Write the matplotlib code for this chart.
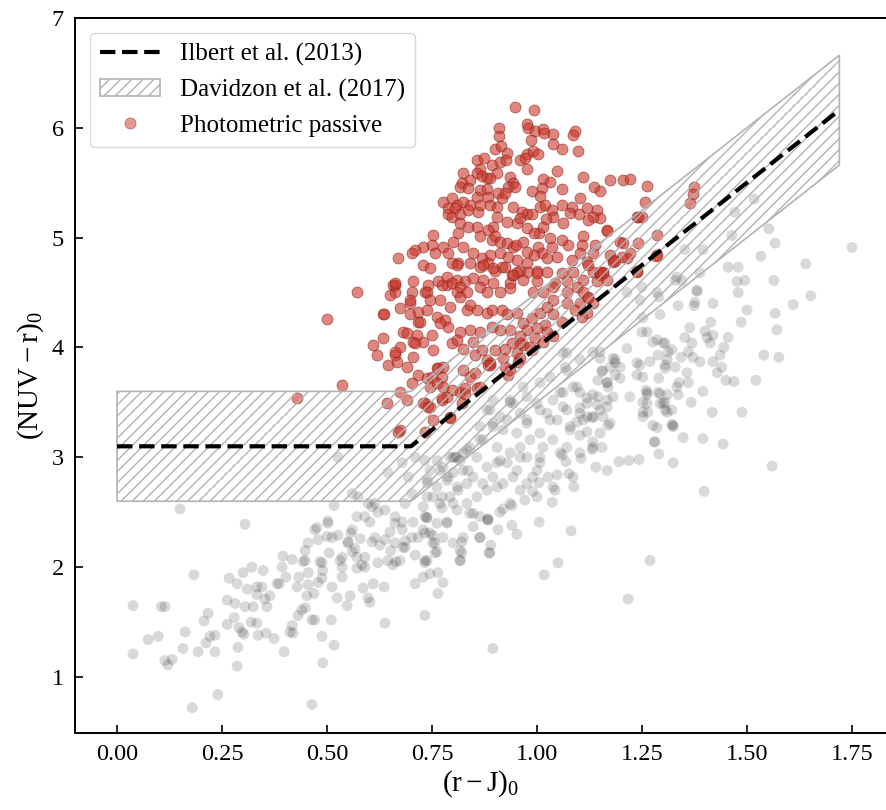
import numpy as np
import matplotlib
matplotlib.use("Agg")
import matplotlib.pyplot as plt
from matplotlib.patches import Polygon
from matplotlib.lines import Line2D

plt.rcParams['font.family'] = ['Liberation Serif', 'DejaVu Serif']
plt.rcParams['mathtext.fontset'] = 'custom'
plt.rcParams['mathtext.rm'] = 'Liberation Serif'
plt.rcParams['mathtext.it'] = 'Liberation Serif:italic'
plt.rcParams['hatch.linewidth'] = 1.0

# selection boundaries
ilbert_x = [0.0, 0.7, 1.72]
ilbert_y = [3.1, 3.1, 6.16]
davidzon_x = [0.0, 0.7, 1.72, 1.72, 0.7, 0.0]
davidzon_y = [2.6, 2.6, 5.66, 6.66, 3.6, 3.6]

# full photometric sample (r-J, NUV-r)
all_pts = [
    (0.15, 2.53), (0.305, 2.39), (0.183, 1.93), (0.038, 1.65), (0.038, 1.21), (0.105, 1.64),
    (0.114, 1.64), (0.074, 1.34), (0.098, 1.37), (0.114, 1.15), (0.121, 1.11), (0.131, 1.16),
    (0.157, 1.26), (0.162, 1.41), (0.179, 0.72), (0.24, 0.84), (0.193, 1.23), (0.207, 1.51),
    (0.217, 1.58), (0.212, 1.31), (0.221, 1.37), (0.233, 1.38), (0.233, 1.23), (0.262, 1.48),
    (0.262, 1.70), (0.281, 1.67), (0.267, 1.90), (0.279, 1.54), (0.286, 1.85), (0.288, 1.27),
    (0.286, 1.10), (0.29, 1.45), (0.298, 1.41), (0.302, 1.39), (0.30, 1.95), (0.321, 2.0),
    (0.305, 1.64), (0.324, 1.64), (0.31, 1.80), (0.319, 1.50), (0.333, 1.49), (0.336, 1.38),
    (0.355, 1.40), (0.333, 1.82), (0.345, 1.82), (0.333, 1.75), (0.348, 1.97), (0.352, 1.71),
    (0.357, 1.64), (0.364, 1.74), (0.374, 1.35), (0.381, 1.85), (0.386, 1.85), (0.393, 2.0),
    (0.395, 2.10), (0.398, 1.23), (0.402, 1.91), (0.417, 2.07), (0.412, 1.41), (0.419, 1.40),
    (0.417, 1.47), (0.429, 1.82), (0.433, 1.91), (0.431, 1.56), (0.44, 1.61), (0.448, 1.63),
    (0.443, 2.05), (0.448, 2.15), (0.452, 1.74), (0.455, 1.84), (0.464, 1.52), (0.471, 1.52),
    (0.464, 0.75), (0.455, 1.95), (0.469, 1.76), (0.476, 2.36), (0.479, 2.25), (0.479, 1.86),
    (0.488, 1.90), (0.483, 2.05), (0.49, 1.97), (0.488, 1.37), (0.49, 1.13), (0.50, 2.28),
    (0.502, 2.42), (0.505, 2.13), (0.51, 1.52), (0.512, 1.82), (0.517, 2.56), (0.517, 1.29),
    (0.524, 1.72), (0.526, 2.29), (0.531, 2.06), (0.536, 2.0), (0.536, 1.91), (0.548, 1.65),
    (0.55, 2.23), (0.555, 1.74), (0.557, 2.31), (0.56, 2.14), (0.567, 2.17), (0.571, 2.09),
    (0.571, 2.46), (0.571, 1.99), (0.579, 2.26), (0.583, 2.02), (0.59, 2.0), (0.586, 1.81),
    (0.598, 1.72), (0.602, 1.68), (0.602, 2.41), (0.607, 2.55), (0.607, 2.23), (0.61, 1.85),
    (0.621, 2.50), (0.626, 2.20), (0.621, 2.04), (0.638, 2.25), (0.636, 1.82), (0.638, 1.49),
    (0.65, 2.32), (0.652, 2.15), (0.657, 2.02), (0.664, 2.05), (0.662, 2.40), (0.674, 2.06),
    (0.679, 2.41), (0.681, 2.18), (0.686, 2.24), (0.705, 2.41), (0.71, 2.11), (0.71, 1.85),
    (0.717, 2.27), (0.729, 2.34), (0.733, 1.56), (0.733, 2.04), (0.738, 2.45), (0.729, 1.91),
    (0.745, 1.94), (0.752, 2.29), (0.762, 2.14), (0.764, 1.95), (0.764, 1.76), (0.776, 1.86),
    (0.774, 2.54), (0.786, 2.40), (0.80, 2.58), (0.817, 2.06), (0.821, 2.23), (0.821, 2.13),
    (0.848, 2.49), (0.864, 2.27), (0.883, 2.43), (0.888, 2.13), (0.895, 1.26),
    (1.017, 1.93), (1.05, 2.04), (1.081, 2.33), (1.005, 2.41), (0.952, 2.30), (0.94, 2.38),
    (0.907, 2.34), (0.886, 2.13), (0.89, 2.20), (0.883, 2.44), (1.269, 2.06), (1.217, 1.71),
    (1.398, 2.69), (1.036, 2.59), (1.088, 2.73), (1.086, 2.82), (1.076, 2.85), (1.043, 2.70),
    (1.048, 2.84), (1.026, 2.82), (1.005, 2.77), (1.0, 2.88), (0.99, 2.69), (0.971, 2.61),
    (0.94, 2.56), (0.919, 2.53), (1.14, 2.91), (1.167, 2.88), (1.195, 2.96), (1.219, 2.97),
    (1.243, 2.98), (1.105, 2.99), (1.06, 3.02), (1.069, 2.96), (1.131, 3.07), (1.155, 3.09),
    (1.133, 3.14), (1.102, 3.20), (1.079, 3.25), (1.095, 3.32), (1.11, 3.34), (1.133, 3.36),
    (1.157, 3.37), (1.169, 3.29), (1.143, 3.48), (1.15, 3.43), (1.102, 3.45), (1.119, 3.54),
    (1.145, 3.55), (1.167, 3.52), (1.169, 3.64), (1.198, 3.72), (1.186, 3.86), (1.198, 3.82),
    (1.181, 3.90), (1.155, 3.78), (1.15, 3.90), (1.214, 3.99), (1.238, 3.86), (1.252, 3.73),
    (1.262, 3.59), (1.252, 3.41), (1.288, 3.59), (1.293, 3.49), (1.31, 3.41), (1.324, 3.28),
    (1.321, 3.43), (1.286, 3.27), (1.279, 3.14), (1.29, 3.03), (1.324, 2.95), (1.348, 3.18),
    (1.367, 3.50), (1.336, 3.57), (1.36, 3.68), (1.338, 3.68), (1.357, 3.77), (1.395, 3.60),
    (1.417, 3.41), (1.395, 3.17), (1.429, 3.77), (1.419, 3.87), (1.388, 3.87), (1.371, 3.91),
    (1.369, 4.04), (1.352, 4.09), (1.305, 4.04), (1.312, 3.96), (1.305, 3.84), (1.288, 3.93),
    (1.29, 3.72), (1.276, 4.05), (1.25, 4.14), (1.419, 4.11), (1.405, 4.09),
    (1.75, 4.91), (1.567, 4.95), (1.533, 4.83), (1.552, 5.08), (1.64, 4.76), (1.652, 4.47),
    (1.61, 4.39), (1.564, 4.61), (1.567, 4.31), (1.571, 4.16), (1.54, 3.93), (1.576, 3.91),
    (1.521, 3.70), (1.56, 2.92), (1.488, 3.41), (1.443, 3.12), (1.321, 3.30), (1.305, 3.50),
    (1.262, 3.49), (1.293, 3.58), (1.26, 3.61), (1.45, 3.70), (1.469, 3.69), (1.44, 3.82),
    (1.343, 3.91), (1.36, 3.96), (1.364, 4.18), (1.40, 4.15), (1.412, 4.04), (1.436, 3.93),
    (1.445, 4.0), (1.455, 4.09), (1.414, 4.23), (1.419, 4.40), (1.374, 4.38), (1.376, 4.41),
    (1.336, 4.38), (1.293, 4.30), (1.381, 4.51), (1.479, 4.50), (1.476, 4.60), (1.495, 4.61),
    (1.455, 4.73), (1.479, 4.73), (1.50, 4.34), (1.486, 4.23), (1.388, 4.68), (1.329, 4.61),
    (1.345, 4.61), (1.471, 5.23), (1.464, 5.02), (1.517, 5.35), (1.252, 4.27), (1.245, 4.43),
    (1.29, 4.46), (1.395, 4.89), (1.352, 4.89), (1.333, 4.64), (1.381, 4.52), (1.286, 4.50),
    (1.25, 4.55), (1.214, 4.50),
    (1.262, 4.14), (1.286, 4.07), (1.300, 4.04), (1.321, 3.98), (1.310, 3.89), (1.305, 3.81),
    (1.329, 3.82), (1.333, 3.64), (1.269, 3.87), (1.245, 3.84), (1.238, 3.75), (1.186, 3.89),
    (1.186, 3.75), (1.174, 3.82), (1.155, 3.79), (1.167, 3.68), (1.181, 3.55), (1.221, 3.55),
    (1.252, 3.50), (1.262, 3.57), (1.310, 3.57), (1.300, 3.49), (1.252, 3.37), (1.264, 3.41),
    (1.305, 3.43), (1.276, 3.29), (1.324, 3.29), (1.281, 3.14), (1.133, 3.57), (1.119, 3.49),
    (1.102, 3.59), (1.086, 3.64), (1.062, 3.59), (1.038, 3.52), (1.071, 3.43), (1.102, 3.40),
    (1.133, 3.37), (1.167, 3.46), (1.174, 3.31), (1.150, 3.22), (1.119, 3.23), (1.079, 3.28),
    (1.048, 3.34), (1.024, 3.40), (1.0, 3.49), (0.976, 3.55), (0.943, 3.49), (0.960, 3.40),
    (0.929, 3.34), (0.976, 3.31), (1.007, 3.22), (1.038, 3.16), (1.071, 3.09), (1.102, 3.04),
    (1.133, 3.09), (1.055, 3.04), (1.014, 3.09), (0.983, 3.16), (0.952, 3.22), (0.919, 3.25),
    (0.895, 3.31), (0.888, 3.43), (0.912, 3.37), (0.864, 3.28), (0.871, 3.16), (0.905, 3.09),
    (0.936, 3.04), (0.976, 3.00), (1.007, 3.00), (0.840, 3.09), (0.824, 3.04), (0.810, 3.00),
    (0.895, 3.52), (0.936, 3.52), (0.967, 3.64), (1.007, 3.68), (1.031, 3.73), (1.067, 3.82),
    (1.071, 3.95), (1.102, 3.89), (1.133, 3.96), (1.145, 3.70),
    (0.738, 2.64), (0.769, 2.58), (0.793, 2.64), (0.738, 2.45), (0.762, 2.40), (0.786, 2.41),
    (0.810, 2.52), (0.833, 2.58), (0.857, 2.64), (0.881, 2.70), (0.905, 2.73), (0.840, 2.49),
    (0.864, 2.46), (0.848, 2.37), (0.824, 2.27), (0.800, 2.22), (0.776, 2.27), (0.752, 2.22),
    (0.745, 2.31), (0.817, 2.15), (0.757, 2.13), (0.738, 2.06), (0.817, 2.06), (0.864, 2.27),
    (0.883, 2.43), (0.912, 2.50), (0.936, 2.58), (0.960, 2.70), (0.976, 2.76), (0.833, 2.76),
    (0.810, 2.73), (0.786, 2.79), (0.762, 2.73), (0.738, 2.77), (0.745, 2.88), (0.776, 2.91),
    (0.800, 2.86), (0.824, 2.88), (0.848, 2.82), (0.871, 2.76), (0.895, 2.82), (0.919, 2.76),
    (0.943, 2.82), (0.881, 2.91), (0.905, 2.95), (0.929, 2.95), (0.952, 2.88), (0.990, 2.82),
    (1.007, 2.95), (0.960, 3.00), (0.857, 3.00), (0.817, 2.97), (0.793, 3.00), (0.762, 2.97),
    (0.733, 2.97), (0.729, 2.55), (0.752, 2.64), (1.038, 2.73), (1.0, 2.64),
    (0.881, 3.43), (0.936, 3.50), (0.895, 3.28), (0.864, 3.16), (0.833, 3.07), (0.800, 3.00),
    (0.769, 2.88), (0.976, 3.34), (1.007, 3.43), (1.031, 3.34), (1.062, 3.46), (1.055, 3.59),
    (1.095, 3.64), (1.071, 3.79), (1.062, 3.95), (1.150, 3.96), (1.167, 3.68), (1.119, 3.37),
    (0.960, 3.09), (0.912, 2.97),
    (0.560, 2.67), (0.574, 2.64), (0.614, 2.58), (0.638, 2.52), (0.662, 2.46), (0.686, 2.58),
    (0.702, 2.67), (0.679, 2.34), (0.702, 2.27), (0.733, 2.46), (0.733, 2.31), (0.757, 2.22),
    (0.662, 2.22), (0.614, 2.27), (0.590, 2.46), (0.560, 2.34), (0.550, 2.22), (0.502, 2.40),
    (0.512, 2.27), (0.455, 2.22), (0.471, 2.34), (0.448, 2.06), (0.488, 2.04), (0.536, 2.09),
    (0.590, 2.09), (0.645, 2.06), (0.686, 2.18), (0.733, 2.06), (0.774, 2.64), (0.812, 2.70),
    (0.788, 2.82), (0.836, 2.88), (0.805, 3.00), (0.740, 2.79), (0.693, 2.82), (0.679, 2.95),
    (0.710, 3.00), (0.526, 3.0), (0.645, 2.86), (0.598, 2.58),
]

# photometric passive selection
passive_pts = [
    (0.948, 6.19), (0.993, 6.16), (0.910, 6.00), (0.976, 6.03), (0.979, 6.00), (0.995, 5.97),
    (1.014, 5.99), (1.017, 5.95), (1.038, 5.94), (1.090, 5.97), (1.086, 5.93), (0.910, 5.92),
    (0.986, 5.89), (1.038, 5.85), (1.060, 5.81), (1.098, 5.79), (0.900, 5.81), (0.914, 5.83),
    (0.929, 5.77), (0.976, 5.76), (0.990, 5.79), (1.002, 5.76), (0.960, 5.71), (0.971, 5.72),
    (0.912, 5.69), (0.926, 5.71), (0.857, 5.71), (0.874, 5.72), (0.976, 5.62), (1.048, 5.61),
    (0.893, 5.66), (0.905, 5.59), (0.864, 5.62), (0.857, 5.59), (0.869, 5.56), (0.881, 5.54),
    (0.824, 5.59), (0.821, 5.50), (0.840, 5.52), (0.888, 5.54), (0.936, 5.55), (0.943, 5.50),
    (0.931, 5.46), (0.948, 5.46), (1.014, 5.53), (1.031, 5.51), (1.110, 5.55), (1.174, 5.52),
    (1.205, 5.52), (1.221, 5.53), (1.262, 5.47), (1.060, 5.44), (1.136, 5.46), (1.150, 5.42),
    (1.012, 5.45), (1.007, 5.38), (0.988, 5.42), (0.817, 5.46), (0.836, 5.45), (0.864, 5.43),
    (0.881, 5.44), (0.857, 5.37), (0.883, 5.37), (0.907, 5.41), (0.917, 5.36), (0.776, 5.32),
    (0.798, 5.36), (0.810, 5.30), (0.824, 5.32), (0.840, 5.30), (0.788, 5.27), (0.805, 5.27),
    (0.788, 5.21), (0.798, 5.19), (0.817, 5.21), (0.836, 5.25), (0.860, 5.23), (0.864, 5.30),
    (0.888, 5.30), (0.905, 5.28), (0.924, 5.41), (0.943, 5.28), (0.964, 5.23), (0.976, 5.21),
    (0.988, 5.21), (1.007, 5.28), (1.019, 5.30), (1.036, 5.25), (1.060, 5.30), (1.083, 5.28),
    (1.079, 5.22), (1.102, 5.36), (1.119, 5.27), (1.143, 5.25), (1.150, 5.18), (1.133, 5.19),
    (1.121, 5.16), (1.062, 5.13), (1.038, 5.19), (1.021, 5.17), (1.100, 5.21), (1.167, 5.07),
    (1.110, 5.01), (1.107, 4.93), (1.138, 4.93), (1.074, 4.93), (1.060, 4.98), (1.031, 5.00),
    (1.005, 5.04), (0.993, 5.04), (1.014, 5.10), (0.976, 5.09), (0.952, 5.13), (0.960, 5.18),
    (0.929, 5.14), (0.905, 5.19), (0.895, 5.10), (0.883, 5.07), (0.857, 5.10), (0.836, 5.10),
    (0.817, 5.13), (0.812, 5.04), (0.864, 5.01), (0.893, 4.98), (0.900, 5.01), (0.912, 4.96),
    (0.929, 4.95), (0.943, 4.91), (0.950, 4.93), (0.967, 4.96), (0.976, 4.87), (1.002, 4.91),
    (1.012, 4.86), (1.036, 4.91), (1.048, 4.82), (1.024, 4.81), (0.993, 4.84), (0.976, 4.77),
    (0.952, 4.80), (0.931, 4.82), (0.912, 4.86), (0.888, 4.84), (0.869, 4.81), (0.848, 4.86),
    (0.824, 4.91), (0.800, 4.96), (0.776, 4.91), (0.752, 5.02), (0.750, 4.93), (0.729, 4.91),
    (0.710, 4.89), (0.703, 4.86), (0.757, 4.86), (0.788, 4.86), (0.812, 4.77), (0.798, 4.77),
    (0.840, 4.77), (0.864, 4.73), (0.883, 4.77), (0.900, 4.70), (0.917, 4.73), (0.940, 4.66),
    (0.960, 4.70), (0.979, 4.69), (1.000, 4.70), (1.024, 4.69), (1.060, 4.68), (1.083, 4.80),
    (1.102, 4.86), (1.133, 4.86), (1.119, 4.78), (1.086, 4.69), (1.133, 4.69), (1.157, 4.69),
    (0.669, 4.81), (0.662, 4.57), (0.705, 4.60), (0.740, 4.57), (0.729, 4.75), (0.745, 4.72),
    (0.764, 4.60), (0.786, 4.57), (0.810, 4.61), (0.829, 4.60), (0.848, 4.63), (0.871, 4.61),
    (0.895, 4.59), (0.936, 4.59), (0.967, 4.61), (1.000, 4.60), (1.043, 4.59), (1.071, 4.60),
    (1.110, 4.61), (1.174, 4.84), (1.214, 4.81), (1.198, 4.96), (1.240, 4.95), (1.238, 5.19),
    (1.257, 5.32), (1.286, 5.02), (1.286, 4.84), (1.167, 4.61), (0.810, 4.75), (0.871, 4.75),
    (0.895, 4.72), (0.924, 4.73), (0.952, 4.69), (1.0, 4.68), (1.121, 4.75), (1.15, 4.68),
    (1.181, 4.78), (1.238, 4.69), (0.657, 4.57), (0.662, 4.50), (0.650, 4.48), (0.702, 4.50),
    (0.698, 4.40), (0.733, 4.50), (0.774, 4.57), (0.786, 4.64), (0.798, 4.59), (0.817, 4.55),
    (0.810, 4.50), (0.833, 4.50), (0.864, 4.55), (0.881, 4.50), (0.912, 4.50), (0.936, 4.54),
    (0.943, 4.66), (0.990, 4.50), (1.014, 4.50), (1.038, 4.55), (1.071, 4.50), (1.095, 4.55),
    (1.110, 4.50), (1.121, 4.45), (1.102, 4.40), (1.071, 4.40), (1.038, 4.43), (1.133, 4.40),
    (1.119, 4.31), (1.090, 4.34), (0.633, 4.30), (0.674, 4.36), (0.698, 4.30), (0.717, 4.32),
    (0.717, 4.23), (0.738, 4.34), (0.769, 4.43), (0.762, 4.28), (0.781, 4.25), (0.793, 4.37),
    (0.817, 4.46), (0.833, 4.34), (0.840, 4.39), (0.857, 4.34), (0.881, 4.31), (0.893, 4.34),
    (0.917, 4.34), (0.929, 4.30), (0.952, 4.31), (0.967, 4.22), (0.988, 4.27), (1.007, 4.31),
    (1.024, 4.37), (1.038, 4.30), (1.060, 4.23), (1.019, 4.20), (1.0, 4.18), (1.024, 4.14),
    (1.038, 4.10), (0.976, 4.16), (0.960, 4.10), (0.936, 4.16), (0.912, 4.16), (0.893, 4.19),
    (0.864, 4.14), (0.840, 4.16), (0.817, 4.14), (0.788, 4.19), (0.769, 4.22), (0.750, 4.11),
    (0.729, 4.05), (0.705, 4.05), (0.681, 4.14), (0.674, 4.00), (0.662, 3.93), (0.645, 3.84),
    (0.690, 3.82), (0.705, 3.91), (0.717, 3.75), (0.752, 3.98), (0.762, 3.81), (0.738, 3.72),
    (0.774, 3.73), (0.798, 4.04), (0.810, 4.07), (0.824, 3.99), (0.848, 4.05), (0.852, 3.93),
    (0.869, 3.98), (0.881, 3.89), (0.888, 3.84), (0.900, 3.98), (0.919, 3.90), (0.924, 3.99),
    (0.940, 4.04), (0.952, 3.95), (0.967, 4.02), (0.988, 3.98), (0.995, 4.09), (1.014, 4.05),
    (0.824, 3.79), (0.840, 3.73), (0.852, 3.77), (0.817, 3.59), (0.798, 3.61), (0.786, 3.55),
    (0.776, 3.64), (0.745, 3.64), (0.733, 3.49), (0.745, 3.46), (0.774, 3.52), (0.829, 3.63),
    (0.857, 3.63), (0.888, 3.86), (0.924, 3.82), (0.931, 3.75), (0.955, 3.87), (0.674, 3.59),
    (0.643, 3.49), (0.674, 3.25), (0.733, 3.23), (0.793, 3.37), (1.143, 4.60), (1.150, 4.66),
    (0.429, 3.54), (0.50, 4.26), (0.571, 4.50), (0.536, 3.66), (0.636, 4.30), (0.610, 4.02),
    (0.619, 3.93), (0.633, 4.09), (0.662, 3.96), (0.667, 3.87), (0.669, 3.23), (0.662, 4.59),
    (0.698, 4.43), (0.738, 4.50), (0.745, 4.43), (0.721, 4.23), (0.690, 4.13), (0.714, 4.11),
    (0.710, 4.04), (0.702, 3.68), (0.690, 3.52), (0.729, 3.49), (0.740, 3.46), (0.752, 3.34),
    (0.793, 3.36), (0.762, 3.68), (0.750, 3.73), (0.764, 3.81), (0.776, 3.82), (0.774, 3.54),
    (0.821, 3.49), (0.829, 3.58), (0.864, 3.64), (0.883, 3.84), (0.936, 3.79), (0.960, 3.90),
    (0.960, 4.04), (0.983, 4.00), (1.107, 4.28), (1.121, 4.46), (1.150, 4.69), (1.181, 4.80),
    (1.202, 4.82), (1.221, 4.86), (1.240, 5.19), (1.205, 4.95), (1.374, 5.46), (1.371, 5.40),
    (1.364, 5.31), (1.250, 5.19), (1.167, 5.06), (1.283, 4.83), (1.238, 4.70), (1.186, 4.79),
    (1.157, 4.68),
]

all_x, all_y = np.array(all_pts).T
pas_x, pas_y = np.array(passive_pts).T

fig = plt.figure(figsize=(8.86, 8.10), dpi=100)
ax = fig.add_axes([0.0847, 0.095, 0.9153, 0.883])

ax.scatter(all_x, all_y, s=62, color='k', alpha=0.15, edgecolors='none', zorder=1)
ax.scatter(pas_x, pas_y, s=62, facecolor='#c9382b', edgecolors='#8a1b12',
           linewidths=0.6, alpha=0.6, zorder=2)

band = Polygon(np.column_stack([davidzon_x, davidzon_y]), closed=True, fill=False,
               hatch='///', edgecolor='#b3b3b3', linewidth=1.2, zorder=3)
ax.add_patch(band)
ax.plot(ilbert_x, ilbert_y, color='k', ls='--', lw=3, zorder=4)

ax.set_xlim(-0.1, 1.831)
ax.set_ylim(0.49, 7)
ax.set_xticks([0.0, 0.25, 0.5, 0.75, 1.0, 1.25, 1.5, 1.75])
ax.set_yticks([1, 2, 3, 4, 5, 6, 7])
ax.tick_params(direction='in', length=6, width=1.2, labelsize=17.5, pad=8)
for sp in ax.spines.values():
    sp.set_linewidth(1.4)
ax.spines['right'].set_visible(False)

ax.set_xlabel(r'$\mathrm{(r-J)_0}$', fontsize=21, labelpad=2)
ax.set_ylabel(r'$\mathrm{(NUV-r)_0}$', fontsize=21, labelpad=4)

handles = [
    Line2D([], [], color='k', ls='--', lw=3),
    Polygon([[0, 0]], closed=True, fill=False, hatch='///', edgecolor='#b3b3b3', linewidth=1.2),
    Line2D([], [], ls='none', marker='o', markersize=8, markerfacecolor='#c9382b',
           markeredgecolor='#8a1b12', markeredgewidth=0.6, alpha=0.5),
]
labels = ['Ilbert et al. (2013)', 'Davidzon et al. (2017)', 'Photometric passive']
leg = ax.legend(handles, labels, loc='upper left', fontsize=18, frameon=True,
                handlelength=2.4, borderaxespad=0.6, labelspacing=0.5)
leg.get_frame().set_edgecolor('#cccccc')

fig.savefig('out.png', dpi=100)
